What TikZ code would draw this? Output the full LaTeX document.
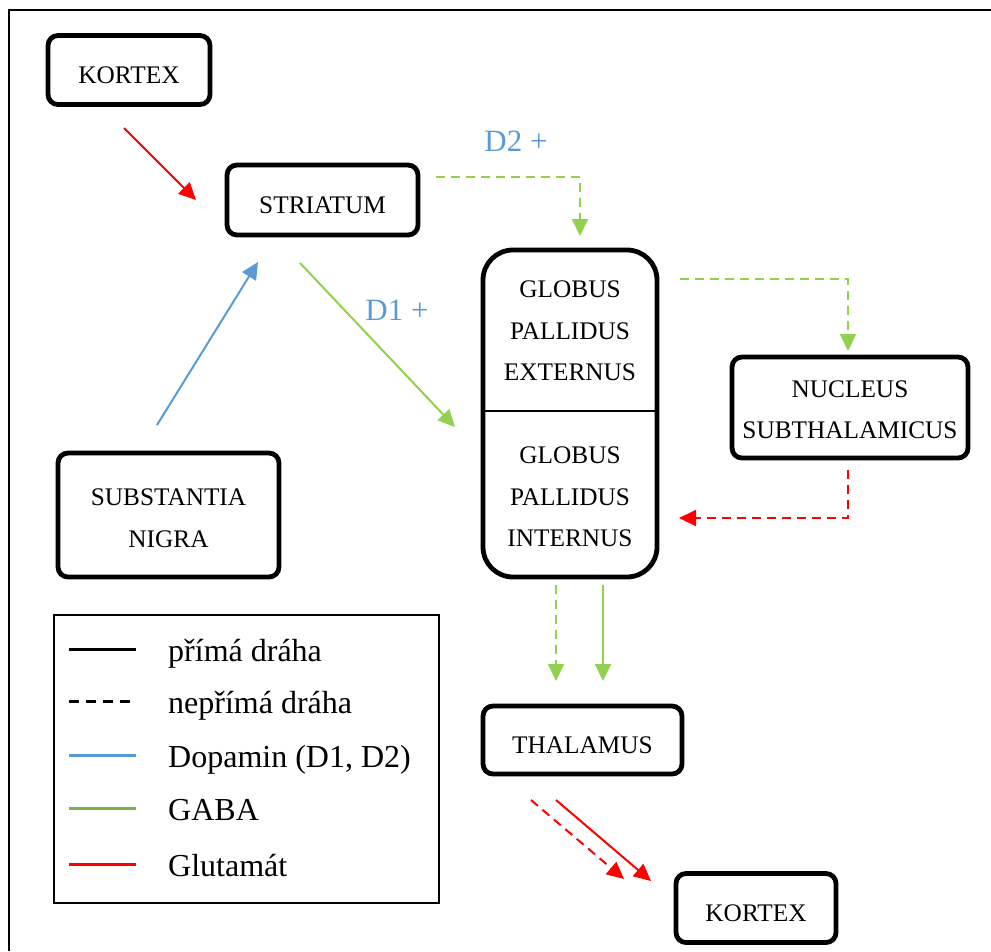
\documentclass[tikz,border=0pt]{standalone}
\usepackage{fontspec}
\setmainfont{Liberation Serif}
\usetikzlibrary{arrows.meta}
\definecolor{gaba}{HTML}{92D050}
\definecolor{dopa}{HTML}{5B9BD5}
\definecolor{glut}{HTML}{FF0000}
\begin{document}
\begin{tikzpicture}[x=1pt,y=-1pt,
  box/.style={draw,line width=4.8pt,rounded corners=10pt,inner sep=0pt,font=\fontsize{25.3}{41.5}\selectfont,align=center},
  boxtext/.style={inner sep=0pt,font=\fontsize{25.3}{41.5}\selectfont,align=center},
  conn/.style={line width=2pt,-{Triangle[length=17pt,width=16pt]}},
  indirect/.style={dash pattern=on 9pt off 6pt},
  lbl/.style={text=dopa,font=\fontsize{31}{37}\selectfont,inner sep=0pt},
  legtext/.style={anchor=base west,inner sep=0pt,font=\fontsize{32}{38}\selectfont},
  legline/.style={line width=3pt}]
\useasboundingbox (0,0) rectangle (991,951);
% outer frame (cut at right and bottom)
\draw[line width=2pt] (9,951) -- (9,10) -- (991,10);

% boxes
\node[box,minimum width=162pt,minimum height=69pt,text height=27pt,text depth=0pt] (k1) at (129,70) {KORTEX};
\node[box,minimum width=191pt,minimum height=70pt,text height=26pt,text depth=0pt] (str) at (322.5,200) {STRIATUM};
\node[box,rounded corners=30pt,minimum width=174pt,minimum height=327pt] (gp) at (570,413.5) {};
\node[boxtext] (gpe) at (570,331) {GLOBUS\\PALLIDUS\\EXTERNUS};
\node[boxtext] (gpi) at (570,497) {GLOBUS\\PALLIDUS\\INTERNUS};
\coordinate (gpdiv) at (570,411);
\draw[line width=2pt] (gp.west |- gpdiv) -- (gp.east |- gpdiv);
\node[box,minimum width=236pt,minimum height=101pt] (ns) at (850,407.5) {};
\node[boxtext] (nstext) at (850,409.5) {NUCLEUS\\SUBTHALAMICUS};
\node[box,minimum width=221pt,minimum height=124pt] (sn) at (168.5,515) {};
\node[boxtext] (sntext) at (168.5,518) {SUBSTANTIA\\NIGRA};
\node[box,minimum width=199pt,minimum height=68pt,text height=26pt,text depth=0pt] (thal) at (582.5,740) {THALAMUS};
\node[box,minimum width=160pt,minimum height=69pt,text height=26pt,text depth=0pt] (k2) at (756,908) {KORTEX};

% labels
\node[lbl] (d2) at (516,141) {D2 +};
\node[lbl] (d1) at (397,310) {D1 +};

% connector end points
\coordinate (a1s) at (124,128); \coordinate (a1e) at (196,200);
\coordinate (bls) at (157,425); \coordinate (ble) at (258,262);
\coordinate (d1s) at (300,263); \coordinate (d1e) at (455,427);
\coordinate (d2s) at (436,177); \coordinate (d2e) at (580,236);
\coordinate (gns) at (680,279); \coordinate (gne) at (848,351);
\coordinate (nrs) at (848,470); \coordinate (nre) at (679,518);
\coordinate (tds) at (556,585); \coordinate (tde) at (556,681);
\coordinate (tss) at (603,585); \coordinate (tse) at (603,681);
\coordinate (kds) at (531,800); \coordinate (kde) at (624,879);
\coordinate (kss) at (556,800); \coordinate (kse) at (651,881);

% connectors
\draw[conn,glut] (a1s) -- (a1e);
\draw[conn,dopa] (bls) -- (ble);
\draw[conn,gaba] (d1s) -- (d1e);
\draw[conn,gaba,indirect] (d2s) -| (d2e);
\draw[conn,gaba,indirect] (gns) -| (gne);
\draw[conn,glut,indirect] (nrs) |- (nre);
\draw[conn,gaba,indirect] (tds) -- (tde);
\draw[conn,gaba] (tss) -- (tse);
\draw[conn,glut,indirect] (kds) -- (kde);
\draw[conn,glut] (kss) -- (kse);

% legend
\node[draw,line width=1.4pt,minimum width=385pt,minimum height=288pt,inner sep=0pt] (leg) at (246.5,759) {};
\coordinate (l1a) at (69,649);  \coordinate (l1b) at (136,649);
\coordinate (l2a) at (69,701);  \coordinate (l2b) at (136,701);
\coordinate (l3a) at (69,755);  \coordinate (l3b) at (136,755);
\coordinate (l4a) at (69,808);  \coordinate (l4b) at (136,808);
\coordinate (l5a) at (69,864);  \coordinate (l5b) at (136,864);
\draw[legline,black] (l1a) -- (l1b);
\draw[legline,black,dash pattern=on 10pt off 7pt] (l2a) -- (l2b);
\draw[legline,dopa] (l3a) -- (l3b);
\draw[legline,gaba!85!black] (l4a) -- (l4b);
\draw[legline,glut] (l5a) -- (l5b);
\node[legtext] (t1) at (168,661) {přímá dráha};
\node[legtext] (t2) at (168,713) {nepřímá dráha};
\node[legtext] (t3) at (168,767) {Dopamin (D1, D2)};
\node[legtext] (t4) at (168,820) {GABA};
\node[legtext] (t5) at (168,876) {Glutamát};
\end{tikzpicture}
\end{document}
